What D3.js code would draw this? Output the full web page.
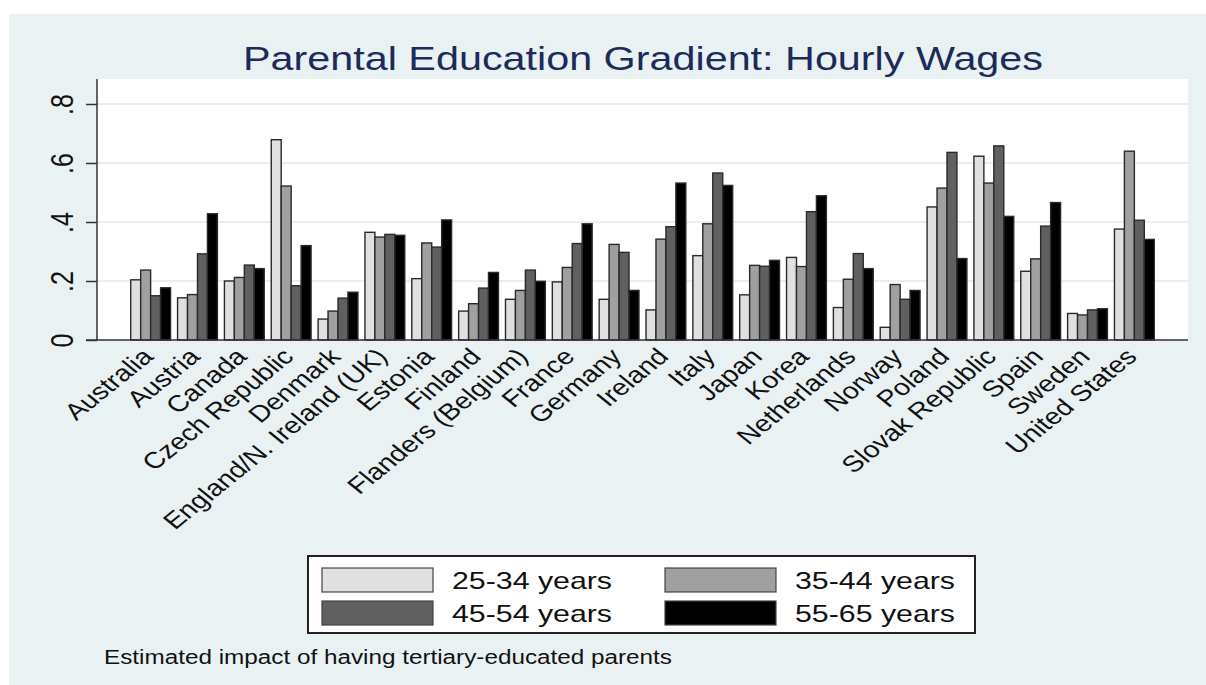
<!DOCTYPE html>
<html>
<head>
<meta charset="utf-8">
<script src="https://cdn.jsdelivr.net/npm/d3@7"></script>
<style>
  body { margin: 0; background: #fff; }
  text { font-family: "Liberation Sans", Arial, sans-serif; }
</style>
</head>
<body>
<div id="chart"></div>
<script>
// Data
const countries = ["Australia", "Austria", "Canada", "Czech Republic", "Denmark",
  "England/N. Ireland (UK)", "Estonia", "Finland", "Flanders (Belgium)", "France",
  "Germany", "Ireland", "Italy", "Japan", "Korea", "Netherlands", "Norway", "Poland",
  "Slovak Republic", "Spain", "Sweden", "United States"];

const ageGroups = ["25-34 years", "35-44 years", "45-54 years", "55-65 years"];

const age2534 = [0.204, 0.143, 0.200, 0.679, 0.071, 0.365, 0.208, 0.098, 0.138, 0.197, 0.138,
  0.102, 0.286, 0.153, 0.280, 0.110, 0.043, 0.451, 0.623, 0.233, 0.090, 0.376];
const age3544 = [0.237, 0.154, 0.212, 0.522, 0.098, 0.349, 0.329, 0.123, 0.168, 0.246, 0.324,
  0.342, 0.394, 0.253, 0.249, 0.206, 0.188, 0.515, 0.532, 0.275, 0.085, 0.640];
const age4554 = [0.150, 0.292, 0.254, 0.184, 0.142, 0.358, 0.315, 0.176, 0.237, 0.327, 0.297,
  0.384, 0.566, 0.250, 0.435, 0.293, 0.138, 0.636, 0.658, 0.386, 0.102, 0.406];
const age5565 = [0.177, 0.428, 0.242, 0.320, 0.162, 0.355, 0.407, 0.229, 0.199, 0.394, 0.168,
  0.532, 0.524, 0.270, 0.489, 0.242, 0.168, 0.276, 0.419, 0.466, 0.106, 0.341];

const yTicks = [0, 0.2, 0.4, 0.6, 0.8];
const yTickLabels = ["0", ".2", ".4", ".6", ".8"];

const title = "Parental Education Gradient: Hourly Wages";
const note = "Estimated impact of having tertiary-educated parents";

const series = [age2534, age3544, age4554, age5565];
const fills = ["#e0e0e0", "#a0a0a0", "#606060", "#000000"];

// the original image is stretched sideways, so the text is too
const sx = 1.24;

const width = 1206, height = 685;
const plot = { left: 97, right: 1188, top: 79, bottom: 340 };

const svg = d3.select("#chart")
  .append("svg")
  .attr("width", width)
  .attr("height", height);

// background
svg.append("rect")
  .attr("x", 9).attr("y", 14)
  .attr("width", width - 9).attr("height", height - 14)
  .attr("fill", "#eaf1f3");

svg.append("rect")
  .attr("x", plot.left).attr("y", plot.top)
  .attr("width", plot.right - plot.left).attr("height", plot.bottom - plot.top)
  .attr("fill", "#ffffff");

// scales
const x = d3.scaleBand()
  .domain(countries)
  .range([plot.left, plot.right])
  .paddingInner(0.15)
  .paddingOuter(0.72);

const xInner = d3.scaleBand()
  .domain(d3.range(ageGroups.length))
  .range([0, x.bandwidth()]);

const y = d3.scaleLinear()
  .domain([0, 0.8])
  .range([plot.bottom, 104]);

// grid lines
svg.append("g")
  .selectAll("line")
  .data(yTicks.slice(1))
  .enter()
  .append("line")
  .attr("x1", plot.left).attr("x2", plot.right)
  .attr("y1", d => y(d)).attr("y2", d => y(d))
  .attr("stroke", "#e6eff2")
  .attr("stroke-width", 2);

// bars
const groups = svg.append("g")
  .selectAll("g")
  .data(countries)
  .enter()
  .append("g")
  .attr("transform", d => `translate(${x(d)},0)`);

groups.selectAll("rect")
  .data((d, i) => series.map((s, k) => ({ k: k, v: s[i] })))
  .enter()
  .append("rect")
  .attr("x", d => xInner(d.k))
  .attr("width", xInner.bandwidth())
  .attr("y", d => y(d.v))
  .attr("height", d => y(0) - y(d.v))
  .attr("fill", d => fills[d.k])
  .attr("stroke", "#2a2a2a")
  .attr("stroke-width", 1.4);

// y axis
const yAxis = svg.append("g")
  .attr("transform", `translate(${plot.left},0)`)
  .call(d3.axisLeft(y).tickValues(yTicks).tickFormat((d, i) => yTickLabels[i]).tickSize(11));

yAxis.select(".domain")
  .attr("d", `M0,${plot.top}V${plot.bottom}`)
  .attr("stroke", "#333")
  .attr("stroke-width", 1.5);
yAxis.selectAll(".tick line").attr("stroke", "#333").attr("stroke-width", 1.5);
yAxis.selectAll(".tick text")
  .attr("x", null).attr("dy", null)
  .attr("transform", `translate(-24,0) scale(${sx},1) rotate(-90)`)
  .attr("text-anchor", "middle")
  .attr("fill", "#111")
  .attr("font-size", 25)
  .attr("font-family", "Liberation Sans, Arial, sans-serif");

// x axis line
svg.append("line")
  .attr("x1", plot.left - 11).attr("x2", plot.right)
  .attr("y1", plot.bottom).attr("y2", plot.bottom)
  .attr("stroke", "#333")
  .attr("stroke-width", 1.5);

// country labels, angled
svg.append("g")
  .selectAll("text")
  .data(countries)
  .enter()
  .append("text")
  .attr("transform", d => `translate(${x(d) + x.bandwidth() / 2 + 4},358) scale(${sx},1) rotate(-45)`)
  .attr("text-anchor", "end")
  .attr("font-size", 23)
  .attr("fill", "#111")
  .text(d => d);

// title
svg.append("text")
  .attr("x", 643).attr("y", 70)
  .attr("text-anchor", "middle")
  .attr("font-size", 33)
  .attr("fill", "#1c2b5a")
  .attr("textLength", 800)
  .attr("lengthAdjust", "spacingAndGlyphs")
  .text(title);

// legend
const legend = svg.append("g");
legend.append("rect")
  .attr("x", 308).attr("y", 556)
  .attr("width", 667).attr("height", 77)
  .attr("fill", "#fff")
  .attr("stroke", "#222")
  .attr("stroke-width", 2);

const items = legend.selectAll("g.item")
  .data(ageGroups)
  .enter()
  .append("g")
  .attr("class", "item")
  .attr("transform", (d, i) => `translate(${i % 2 === 0 ? 322 : 665},${i < 2 ? 568 : 601})`);

items.append("rect")
  .attr("width", 111).attr("height", 24)
  .attr("fill", (d, i) => fills[i])
  .attr("stroke", "#444")
  .attr("stroke-width", 1.2);

items.append("text")
  .attr("x", 130).attr("y", 21)
  .attr("font-size", 24)
  .attr("fill", "#111")
  .attr("textLength", 160)
  .attr("lengthAdjust", "spacingAndGlyphs")
  .text(d => d);

// note under the legend
svg.append("text")
  .attr("x", 104).attr("y", 664)
  .attr("font-size", 20)
  .attr("fill", "#111")
  .attr("textLength", 568)
  .attr("lengthAdjust", "spacingAndGlyphs")
  .text(note);
</script>
</body>
</html>
